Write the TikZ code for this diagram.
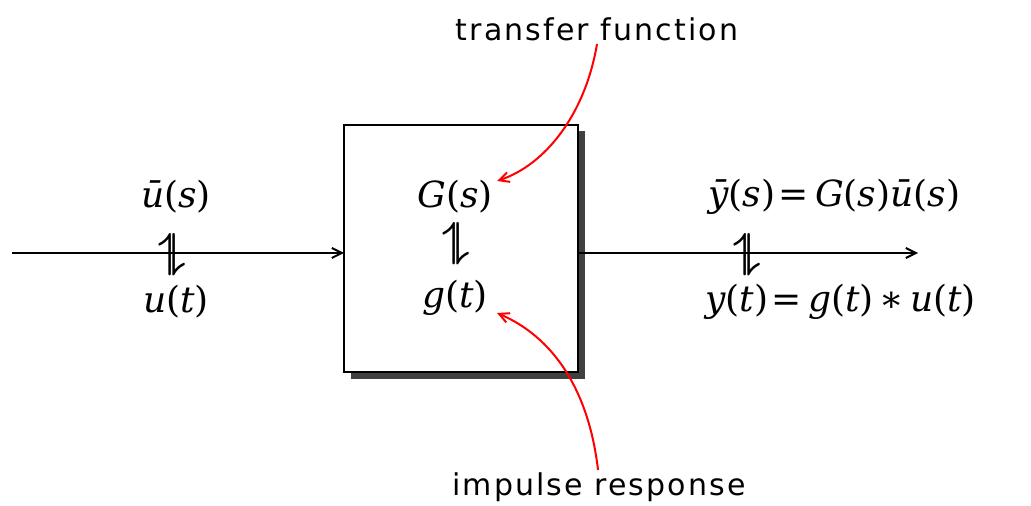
\documentclass[tikz,border=0pt]{standalone}
\usepackage{fontspec}
\setmainfont{DejaVu Sans}
\newfontfamily\txtfont[LetterSpace=7]{DejaVu Sans}
\newfontfamily\mfont[LetterSpace=10]{DejaVu Serif}
\usepackage{graphicx}
\usetikzlibrary{arrows.meta}
\definecolor{shadowgray}{HTML}{404040}
\newcommand{\harp}{\rotatebox{90}{\boldmath$\rightleftharpoons$}}
\newcommand{\mi}[1]{{\itshape #1}}
\begin{document}
\begin{tikzpicture}[x=0.5pt,y=-0.5pt,
  sig/.style={draw=black,line width=1pt,-{Straight Barb[length=5pt,width=5pt]}},
  callout/.style={draw=red,line width=1pt,-{Straight Barb[length=5pt,width=5pt]}},
  mathlbl/.style={font=\mfont\fontsize{18}{21}\selectfont,inner sep=0pt},
  txtlbl/.style={font=\txtfont\fontsize{15}{18}\selectfont,inner sep=0pt},
  harpsym/.style={font=\fontsize{21}{24}\selectfont,inner sep=0pt}]
\useasboundingbox (0,0) rectangle (1031,506);
% shadow and box
\fill[shadowgray] (351,131) rectangle (585,379);
\node[draw=black,line width=1.4pt,fill=white,minimum width=117pt,minimum height=123.5pt,inner sep=0pt] (box) at (461,248.5) {};
% input
\coordinate (in) at (12,253);
\coordinate (boxin) at (344,253);
\draw[sig] (in) -- (boxin);
\node[harpsym] (h1) at (175,255) {\harp};
\node[mathlbl] (ubar) at (176,197) {\mi{ū}(\mi{s})};
\node[mathlbl] (ut) at (176,302) {\mi{u}(\mi{t})};
% inside
\node[mathlbl] (G) at (455,197) {\mi{G}(\mi{s})};
\node[harpsym] (h2) at (459,244) {\harp};
\node[mathlbl] (g) at (455,298) {\mi{g}(\mi{t})};
% output
\coordinate (boxout) at (578,253);
\coordinate (out) at (918,253);
\draw[sig] (boxout) -- (out);
\node[harpsym] (h3) at (750,255) {\harp};
\node[mathlbl,anchor=west] (ybar) at (708,197) {\mi{ȳ}(\mi{s})=\,\mi{G}(\mi{s})\mi{ū}(\mi{s})};
\node[mathlbl,anchor=west] (yt) at (705,302) {\mi{y}(\mi{t})=\,\mi{g}(\mi{t})\hspace{3pt}∗\hspace{3pt}\mi{u}(\mi{t})};
% callouts
\node[txtlbl] (tf) at (597,29) {transfer function};
\node[txtlbl] (ir) at (599,487) {impulse response};
\draw[callout] (597,44) .. controls (585,115) and (545,165) .. (497,181);
\draw[callout] (598,470) .. controls (590,400) and (560,340) .. (497,313);
\end{tikzpicture}
\end{document}
